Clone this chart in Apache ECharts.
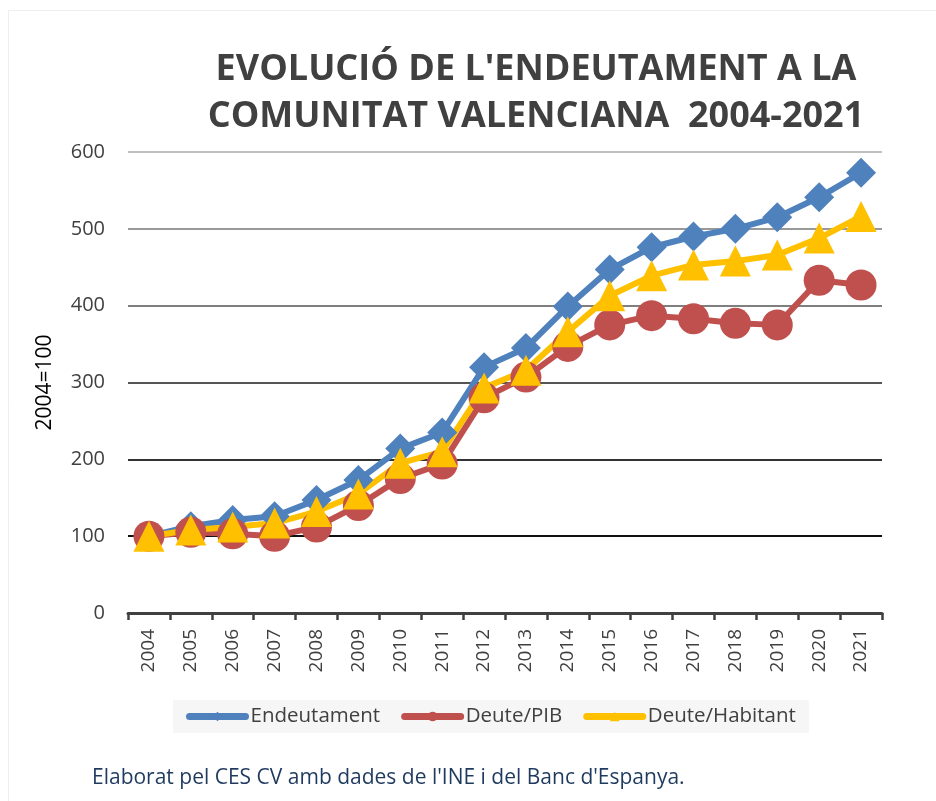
<!DOCTYPE html>
<html>
<head>
<meta charset="utf-8">
<script src="https://cdn.jsdelivr.net/npm/echarts@6/dist/echarts.min.js"></script>
<style>
  html, body { margin: 0; padding: 0; background: #fff; }
  #chart { width: 936px; height: 801px; }
</style>
</head>
<body>
<div id="chart"></div>
<script>
// dades llegides del gràfic (2004=100)
const years = ['2004','2005','2006','2007','2008','2009','2010','2011','2012',
               '2013','2014','2015','2016','2017','2018','2019','2020','2021'];
const endeutament = [100, 113, 121, 126, 147, 173, 214, 235, 320, 345, 399, 447, 476, 490, 500, 515, 541, 573];
const deutePib = [100, 105, 103, 100, 112, 140, 175, 194, 280, 307, 347, 375, 387, 383, 377, 375, 433, 427];
const deuteHabitant = [100, 108, 112, 117, 132, 155, 195, 210, 293, 316, 366, 413, 439, 453, 458, 466, 488, 516];
const yTicks = [0, 100, 200, 300, 400, 500, 600];

const chart = echarts.init(document.getElementById('chart'));

const font = 'Open Sans, Noto Sans, sans-serif';

const option = {
    backgroundColor: '#fff',
    animation: false,
    title: {
        text: "EVOLUCIÓ DE L'ENDEUTAMENT A LA\nCOMUNITAT VALENCIANA  2004-2021",
        left: 531,
        top: 41,
        textAlign: 'center',
        textStyle: {
            fontFamily: font,
            fontWeight: 'bold',
            fontSize: 36,
            lineHeight: 47,
            color: '#404040'
        }
    },
    legend: {
        data: ['Endeutament', 'Deute/PIB', 'Deute/Habitant'],
        left: 173,
        top: 700,
        padding: [6, 13],
        backgroundColor: '#f6f6f6',
        itemGap: 21,
        itemWidth: 56,
        itemHeight: 12,
        lineStyle: { width: 7, cap: 'round' },
        textStyle: { fontFamily: font, fontSize: 20.5, color: '#404040' }
    },
    grid: { left: 128, right: 54, top: 152, bottom: 188, containLabel: false },
    xAxis: {
        type: 'category',
        data: years,
        boundaryGap: true,
        axisLine: { lineStyle: { color: '#404040', width: 3 } },
        axisTick: { show: true, length: 7, lineStyle: { color: '#404040', width: 2.5 } },
        axisLabel: {
            rotate: 90,
            fontFamily: font,
            fontSize: 19,
            color: '#404040',
            margin: 16
        }
    },
    yAxis: {
        type: 'value',
        min: yTicks[0],
        max: yTicks[yTicks.length - 1],
        interval: 100,
        name: '2004=100',
        nameLocation: 'middle',
        nameGap: 72,
        nameRotate: 90,
        nameTextStyle: { fontFamily: font, fontSize: 21, color: '#000' },
        axisLine: { show: false },
        axisTick: { show: false },
        axisLabel: { fontFamily: font, fontSize: 20, color: '#404040', margin: 23 },
        splitLine: {
            lineStyle: {
                width: 2,
                color: ['#404040', '#111111', '#333333', '#555555', '#7f7f7f', '#999999', '#c0c0c0']
            }
        }
    },
    series: [
        {
            name: 'Endeutament',
            type: 'line',
            data: endeutament,
            symbol: 'diamond',
            symbolSize: 30,
            itemStyle: { color: '#4f81bd' },
            lineStyle: { color: '#4f81bd', width: 6 }
        },
        {
            name: 'Deute/PIB',
            type: 'line',
            data: deutePib,
            symbol: 'circle',
            symbolSize: 31,
            itemStyle: { color: '#c0504d' },
            lineStyle: { color: '#c0504d', width: 6 }
        },
        {
            name: 'Deute/Habitant',
            type: 'line',
            data: deuteHabitant,
            symbol: 'triangle',
            symbolSize: 31,
            itemStyle: { color: '#ffc000' },
            lineStyle: { color: '#ffc000', width: 6 }
        }
    ],
    graphic: [
        {
            type: 'rect',
            shape: { x: 8.5, y: 10.5, width: 940, height: 800 },
            style: { fill: 'none', stroke: '#eeeeee', lineWidth: 1 },
            silent: true
        },
        {
            type: 'text',
            left: 92,
            top: 768,
            style: {
                text: "Elaborat pel CES CV amb dades de l'INE i del Banc d'Espanya.",
                fontFamily: font,
                fontSize: 21,
                fill: '#1f3a5f'
            }
        }
    ]
};

chart.setOption(option);
</script>
</body>
</html>
